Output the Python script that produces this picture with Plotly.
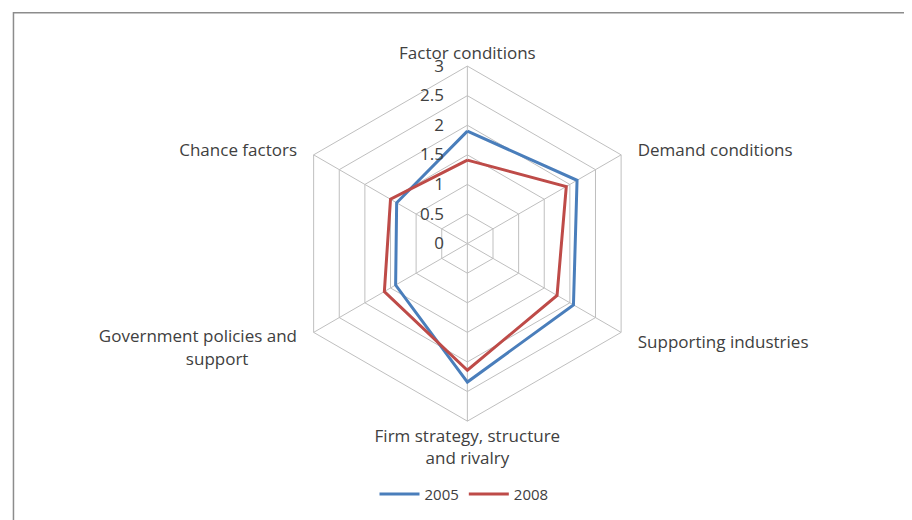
import plotly.graph_objects as go

sp = '\u00a0' * 3
categories = ['Factor conditions', sp + 'Demand conditions', sp + 'Supporting industries',
              'Firm strategy, structure<br>and rivalry',
              'Government policies and' + sp + '<br>support' + '\u00a0' * 14,
              'Chance factors' + sp]
values_2005 = [1.90, 2.14, 2.07, 2.34, 1.40, 1.38]
values_2008 = [1.41, 1.93, 1.75, 2.14, 1.62, 1.50]
radial_ticks = [0, 0.5, 1, 1.5, 2, 2.5, 3]

grid = '#BFBFBF'
font_family = 'Open Sans, sans-serif'

fig = go.Figure()
for name, vals, color in [('2005', values_2005, '#4A7EBB'), ('2008', values_2008, '#BE4B48')]:
    fig.add_trace(go.Scatterpolar(
        r=vals + vals[:1],
        theta=categories + categories[:1],
        mode='lines',
        name=name,
        line=dict(color=color, width=3),
    ))

fig.update_layout(
    width=912, height=520,
    margin=dict(l=0, r=0, t=0, b=0),
    paper_bgcolor='white',
    plot_bgcolor='white',
    font=dict(family=font_family, size=17, color='#404040'),
    polar=dict(
        domain=dict(x=[0.309, 0.6984], y=[0.2055, 0.8883]),
        gridshape='linear',
        bgcolor='white',
        angularaxis=dict(
            rotation=90, direction='clockwise',
            showline=True, linecolor=grid, linewidth=1,
            gridcolor=grid, gridwidth=1,
            ticks='', tickfont=dict(size=17, color='#404040'),
        ),
        radialaxis=dict(
            range=[0, 3], tickvals=radial_ticks,
            ticktext=[f'{t:g}' for t in radial_ticks],
            angle=90, tickangle=90, side='counterclockwise',
            showline=False, gridcolor=grid, gridwidth=1,
            ticks='outside', ticklen=17, tickcolor='rgba(0,0,0,0)',
            tickfont=dict(size=17, color='#404040'),
        ),
    ),
    legend=dict(
        orientation='h', x=0.5, xanchor='center', y=0.065, yanchor='middle',
        font=dict(size=15, color='#404040'), itemwidth=40,
    ),
    shapes=[dict(type='rect', xref='paper', yref='paper', x0=0.006, x1=1.05, y0=-0.05, y1=0.991,
                 line=dict(color='#8C8C8C', width=1.5))],
)

fig.write_html('out.html')
